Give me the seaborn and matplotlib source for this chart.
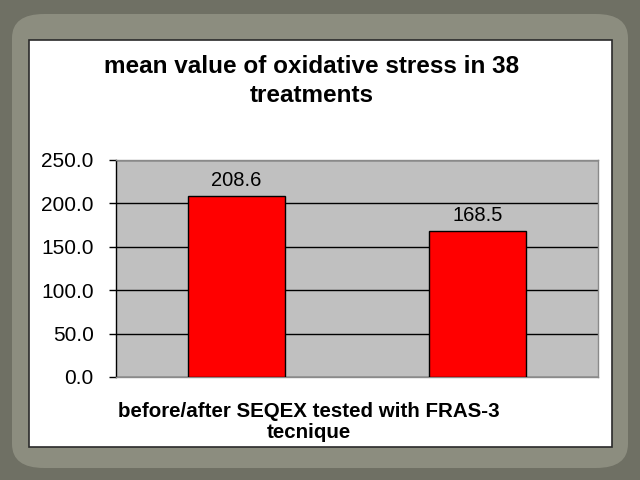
import matplotlib.pyplot as plt
import matplotlib.patches as mpatches
import pandas as pd
import seaborn as sns

categories = ['before', 'after']
values = [208.6, 168.5]
yticks = [0, 50, 100, 150, 200, 250]

df = pd.DataFrame({'phase': categories, 'value': values})

sns.set_theme(style='white')
plt.rcParams['font.family'] = ['Liberation Sans', 'DejaVu Sans']
plt.rcParams['text.color'] = 'black'

fig = plt.figure(figsize=(6.4, 4.8), dpi=100, facecolor='#6f7064')

# slide frame
frame = mpatches.FancyBboxPatch((12 / 640, 12 / 480), 616 / 640, 454 / 480,
                                boxstyle='round,pad=0,rounding_size=0.05',
                                transform=fig.transFigure, facecolor='#8c8d7f',
                                edgecolor='none', zorder=0)
fig.patches.append(frame)
panel = mpatches.Rectangle((29 / 640, 1 - 447 / 480), 583 / 640, 407 / 480,
                           transform=fig.transFigure, facecolor='white',
                           edgecolor='#2a2a2a', linewidth=1.2, zorder=1)
fig.patches.append(panel)

ax = fig.add_axes([116 / 640, 1 - 377 / 480, 482 / 640, 217 / 480])
ax.set_zorder(3)
ax.set_facecolor('#c0c0c0')
sns.barplot(data=df, x='phase', y='value', color='#ff0000', width=0.4,
            edgecolor='black', linewidth=1, saturation=1, ax=ax, zorder=3)

ax.set_ylim(0, 250)
ax.set_yticks(yticks)
ax.set_yticklabels([f'{v:.1f}' for v in yticks], fontsize=15, color='black')
ax.yaxis.grid(True, color='black', linewidth=1)
ax.set_axisbelow(True)
ax.tick_params(axis='y', length=5, width=1, color='black', left=True, pad=11)
ax.tick_params(axis='x', length=0)
ax.set_xticklabels([])
for side in ['top', 'right', 'bottom']:
    ax.spines[side].set_color('#8a8a8a')
    ax.spines[side].set_linewidth(1)
ax.spines['left'].set_color('black')
ax.spines['left'].set_linewidth(1)

for i, v in enumerate(values):
    ax.text(i, v + 7, f'{v:.1f}', ha='center', va='bottom', fontsize=14.5)

ax.set_ylabel('')
ax.set_xlabel('')

fig.text(309 / 640, 1 - 422 / 480, 'before/after SEQEX tested with FRAS-3\ntecnique',
         ha='center', va='center', fontsize=14.8, fontweight='bold', linespacing=1.12)

fig.text(312 / 640, 1 - 81 / 480, 'mean value of oxidative stress in 38\ntreatments',
         ha='center', va='center', fontsize=17.5, fontweight='bold', linespacing=1.28)

fig.savefig('out.png', dpi=100, facecolor=fig.get_facecolor())
